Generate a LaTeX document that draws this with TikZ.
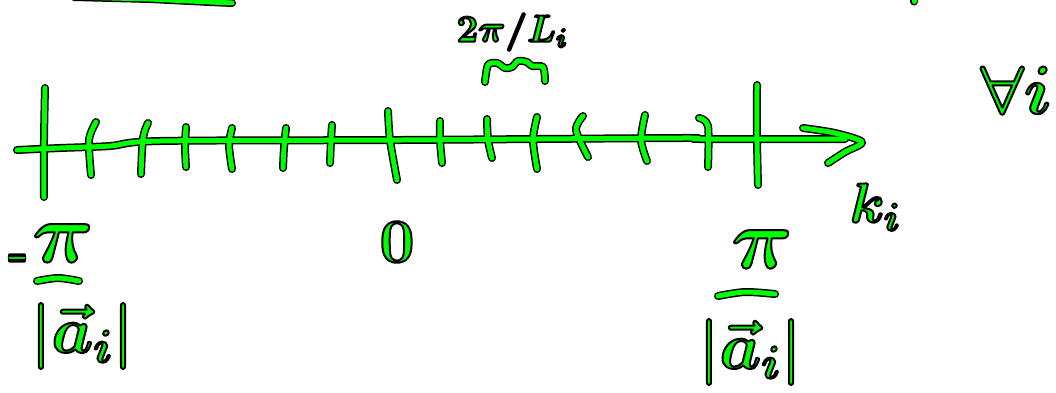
\RequirePackage{fix-cm}
\documentclass[tikz,border=0pt]{standalone}
\usepackage{amsmath}
\usepackage{xcolor}
\definecolor{pengreen}{RGB}{0,255,0}
\newcommand\fs[1]{\fontsize{#1}{#1}\selectfont\boldmath\bfseries}
% marker look: green fill, black rim
\newcommand\marker[1]{\special{pdf:literal direct 2 Tr 2 w 1 j 0 G}#1\special{pdf:literal direct 0 Tr}}
\tikzset{
  hw/.style={inner sep=0pt, text=pengreen}
}

\begin{document}
\begin{tikzpicture}[x=1pt,y=-1pt,line cap=round,line join=round]
  \useasboundingbox (0,0) rectangle (1056,392);

  % strokes: black rim first, then green on top
  \foreach \w/\c in {8pt/black,5pt/pengreen}{
    \begin{scope}[line width=\w,draw=\c]
      \draw (74,-3) -- (150,-1) -- (210,2) -- (232,3);
      \draw (914,0) -- (914,1.5);
      % axis
      \draw plot[smooth] coordinates {(17,150) (60,148) (110,146) (160,141) (400,140) (680,138) (700,139) (845,139)};
      \draw plot[smooth] coordinates {(803,128) (835,133) (862,142) (845,152) (828,163)};
      % ticks
      \foreach \xa/\ya/\xb/\yb/\xc/\yc in {45/88/44/140/44/197, 96/122/89/140/91/175,
          148/123/143/138/141/174, 186/127/185/147/186/167, 232/128/229/145/232/169,
          286/128/284/148/283/168, 332/125/331/140/330/163, 388/111/390/140/397/180,
          440/121/440/140/442/163, 487/119/488/140/492/158, 537/117/533/140/537/169,
          583/116/576/130/588/157, 645/115/641/140/647/161, 699/118/708/126/708/167,
          757/85/757/140/758/185}
        \draw plot[smooth] coordinates {(\xa,\ya) (\xb,\yb) (\xc,\yc)};
      % spacing mark
      \draw plot[smooth] coordinates {(485,82) (488,65) (497,63) (505,68) (512,67) (518,61) (527,62) (532,66) (543,67) (545,81)};
      % fraction bars
      \draw plot[smooth] coordinates {(37,281) (58,278) (79,281)};
      \draw plot[smooth] coordinates {(718,296) (745,292) (775,294)};
    \end{scope}
  }

  \node[hw, font=\fs{38}] (period) at (512,32) {\marker{$2\pi/L_i$}};
  \node[hw, font=\fs{62}] (zero) at (397,242) {\marker{0}};
  \node[hw, font=\fs{56}] (kaxis) at (875,207) {\marker{$k_i$}};
  \node[hw, font=\fs{68}] (forall) at (1016,90) {\marker{$\forall i$}};
  \node[hw, font=\fs{50}, xscale=0.5, yscale=1.8] (minus) at (17,258) {\marker{$-$}};
  \node[hw, font=\fs{85}] (lowernum) at (63,243) {\marker{$\pi$}};
  \node[hw, font=\fs{66}] (lowerden) at (82,336) {\marker{$|\vec a_i|$}};
  \node[hw, font=\fs{85}] (uppernum) at (762,249) {\marker{$\pi$}};
  \node[hw, font=\fs{66}] (upperden) at (750,352) {\marker{$|\vec a_i|$}};
\end{tikzpicture}
\end{document}
